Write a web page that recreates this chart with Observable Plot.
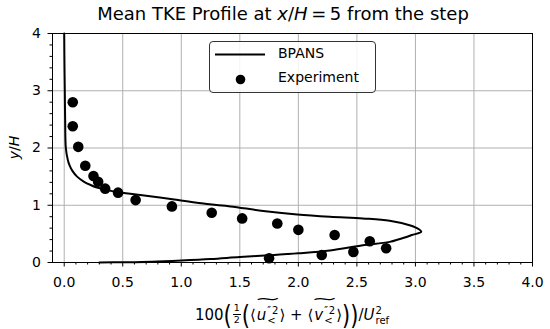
<!DOCTYPE html>
<html>
<head>
<meta charset="utf-8">
<script src="https://cdn.jsdelivr.net/npm/d3@7"></script>
<script src="https://cdn.jsdelivr.net/npm/@observablehq/plot@0.6"></script>
<style>
  html, body { margin: 0; padding: 0; background: #fff; }
  #wrap { position: relative; width: 550px; height: 329px; font-family: "DejaVu Sans", sans-serif; color: #000; overflow: hidden; }
  #wrap > svg { position: absolute; left: 0; top: 0; }
  #title { position: absolute; left: 0; width: 566px; top: 3px; text-align: center; font-size: 18px; white-space: nowrap; }
  #xlabel { position: absolute; left: 52px; width: 480px; top: 303px; text-align: center; font-size: 15px; white-space: nowrap; line-height: 1; }
  .big { font-size: 21px; display: inline-block; transform: scaleY(1.3); vertical-align: -2px; }
  .frac { display: inline-block; font-size: 9.5px; vertical-align: -3px; line-height: 1.0; margin: 0 1px; text-align: center; }
  .frac > span { display: block; }
  .frac .num { border-bottom: 1px solid #000; padding: 0 1px 1px 1px; }
  .tl { position: relative; display: inline-block; margin: 0 1px; }
  .tl .tw { position: absolute; left: 0; right: 0; top: -14px; text-align: center; font-size: 14px; transform: scaleX(2.3); }
  .ss { display: inline-block; font-size: 10px; vertical-align: -4px; line-height: 1.0; margin-left: 1px; text-align: left; }
  .ss > span { display: block; }
  #legend { position: absolute; left: 209px; top: 41px; width: 165px; height: 50px; border: 1px solid #333; border-radius: 4px; background: rgba(255,255,255,0.85); }
  #legend svg { position: absolute; left: 0; top: 0; }
  .lt { position: absolute; left: 68px; font-size: 14px; }
</style>
</head>
<body>
<div id="wrap"></div>
<script>
// Experiment data (x = 100*TKE/Uref^2, y = y/H)
const expX = [0.073, 0.073, 0.12, 0.18, 0.25, 0.29, 0.35, 0.46, 0.61, 0.92, 1.26, 1.52, 1.82, 2.00, 2.31, 2.61, 2.75, 2.47, 2.20, 1.75];
const expY = [2.80, 2.38, 2.02, 1.69, 1.51, 1.41, 1.29, 1.22, 1.09, 0.98, 0.87, 0.77, 0.68, 0.57, 0.48, 0.37, 0.25, 0.185, 0.13, 0.075];

// BPANS profile, ordered along the curve from top to bottom
const bpansX = [0.0, 0.002, 0.005, 0.008, 0.014, 0.03, 0.045, 0.07, 0.11, 0.17, 0.23, 0.28, 0.36, 0.45, 0.65, 0.94, 1.22, 1.42, 1.70, 1.99, 2.27, 2.55, 2.78, 2.95, 3.03, 3.05, 2.97, 2.93, 2.78, 2.55, 2.27, 2.00, 1.75, 1.50, 1.25, 1.00, 0.75, 0.50, 0.30];
const bpansY = [4.0, 3.5, 3.0, 2.5, 2.0, 1.8, 1.7, 1.6, 1.5, 1.41, 1.35, 1.31, 1.27, 1.23, 1.18, 1.10, 1.02, 0.98, 0.90, 0.84, 0.80, 0.77, 0.73, 0.65, 0.58, 0.535, 0.48, 0.45, 0.36, 0.30, 0.21, 0.16, 0.125, 0.095, 0.06, 0.035, 0.015, 0.005, 0.0];

// Tick positions
const xMajor = [0, 0.5, 1, 1.5, 2, 2.5, 3, 3.5, 4];
const xMinor = d3.range(0, 41).map(i => i / 10).filter(v => Math.abs(v * 2 - Math.round(v * 2)) > 1e-6);
const yMajor = [0, 1, 2, 3, 4];
const yMinor = d3.range(0, 21).map(i => i / 5).filter(v => Math.abs(v - Math.round(v)) > 1e-6);

const expData = expX.map((x, i) => ({x, y: expY[i]}));
const lineData = bpansX.map((x, i) => ({x, y: bpansY[i]}));

const W = 550, H = 329;
const marks = [
  Plot.ruleX(xMajor, {stroke: "#b0b0b0", strokeWidth: 1}),
  Plot.ruleY(yMajor, {stroke: "#b0b0b0", strokeWidth: 1}),
  Plot.line(lineData, {x: "x", y: "y", stroke: "black", strokeWidth: 2, curve: "catmull-rom"}),
  Plot.dot(expData, {x: "x", y: "y", r: 5.3, fill: "black", stroke: "none"}),
  Plot.frame({stroke: "black", strokeWidth: 1})
];
const hasAxis = typeof Plot.axisX === "function";
if (hasAxis) {
  marks.push(
    Plot.axisX(xMajor, {tickSize: 4.5, tickPadding: 10, tickFormat: d3.format(".1f"), label: null, fontSize: 14}),
    Plot.axisX(xMinor, {tickSize: 2.5, tickFormat: () => "", label: null}),
    Plot.axisY(yMajor, {tickSize: 4.5, tickPadding: 7, tickFormat: d3.format("d"), label: null, fontSize: 14}),
    Plot.axisY(yMinor, {tickSize: 2.5, tickFormat: () => "", label: null})
  );
}

const chart = Plot.plot({
  width: W,
  height: H,
  marginLeft: 52,
  marginRight: 18,
  marginTop: 33,
  marginBottom: 67,
  style: {fontFamily: "DejaVu Sans, sans-serif", fontSize: "14px", color: "black", background: "white", overflow: "visible"},
  x: {domain: [-0.1, 4], ...(hasAxis ? {} : {ticks: xMajor, tickFormat: d3.format(".1f"), tickSize: 4.5, tickPadding: 10, label: null})},
  y: {domain: [0, 4], ...(hasAxis ? {} : {ticks: yMajor, tickSize: 4.5, tickPadding: 7, label: null})},
  marks
});

const wrap = document.getElementById("wrap");
wrap.appendChild(chart);

// y label
const svg = d3.select(chart);
const yl = svg.append("text")
  .attr("transform", "translate(15,147.5) rotate(-90)")
  .attr("text-anchor", "middle")
  .attr("dominant-baseline", "middle")
  .attr("font-size", 14)
  .attr("fill", "black");
yl.append("tspan").attr("font-style", "italic").text("y");
yl.append("tspan").text("/");
yl.append("tspan").attr("font-style", "italic").text("H");

// title
const t = document.createElement("div");
t.id = "title";
t.innerHTML = 'Mean TKE Profile at <i>x</i>/<i>H</i>\u2009=\u20095 from the step';
wrap.appendChild(t);

// x label
const term = v =>
  '\u27E8<span class="tl"><span class="tw">~</span><i>' + v + '</i><span class="ss"><span>\u2033\u200A2</span><span>&lt;</span></span></span>\u27E9';
const xl = document.createElement("div");
xl.id = "xlabel";
xl.innerHTML =
  '100<span class="big">(</span><span class="frac"><span class="num">1</span><span>2</span></span>' +
  '<span class="big">(</span>' + term("u") + ' + ' + term("v") +
  '<span class="big">)</span><span class="big">)</span>/<i>U</i><span class="ss"><span>2</span><span>ref</span></span>';
wrap.appendChild(xl);

// legend
const lg = document.createElement("div");
lg.id = "legend";
lg.innerHTML =
  '<svg width="165" height="50"><line x1="5" x2="55" y1="12.5" y2="12.5" stroke="black" stroke-width="2"/>' +
  '<circle cx="30.5" cy="37.5" r="4.8" fill="black"/></svg>' +
  '<div class="lt" style="top:3px">BPANS</div><div class="lt" style="top:27px">Experiment</div>';
wrap.appendChild(lg);
</script>
</body>
</html>
